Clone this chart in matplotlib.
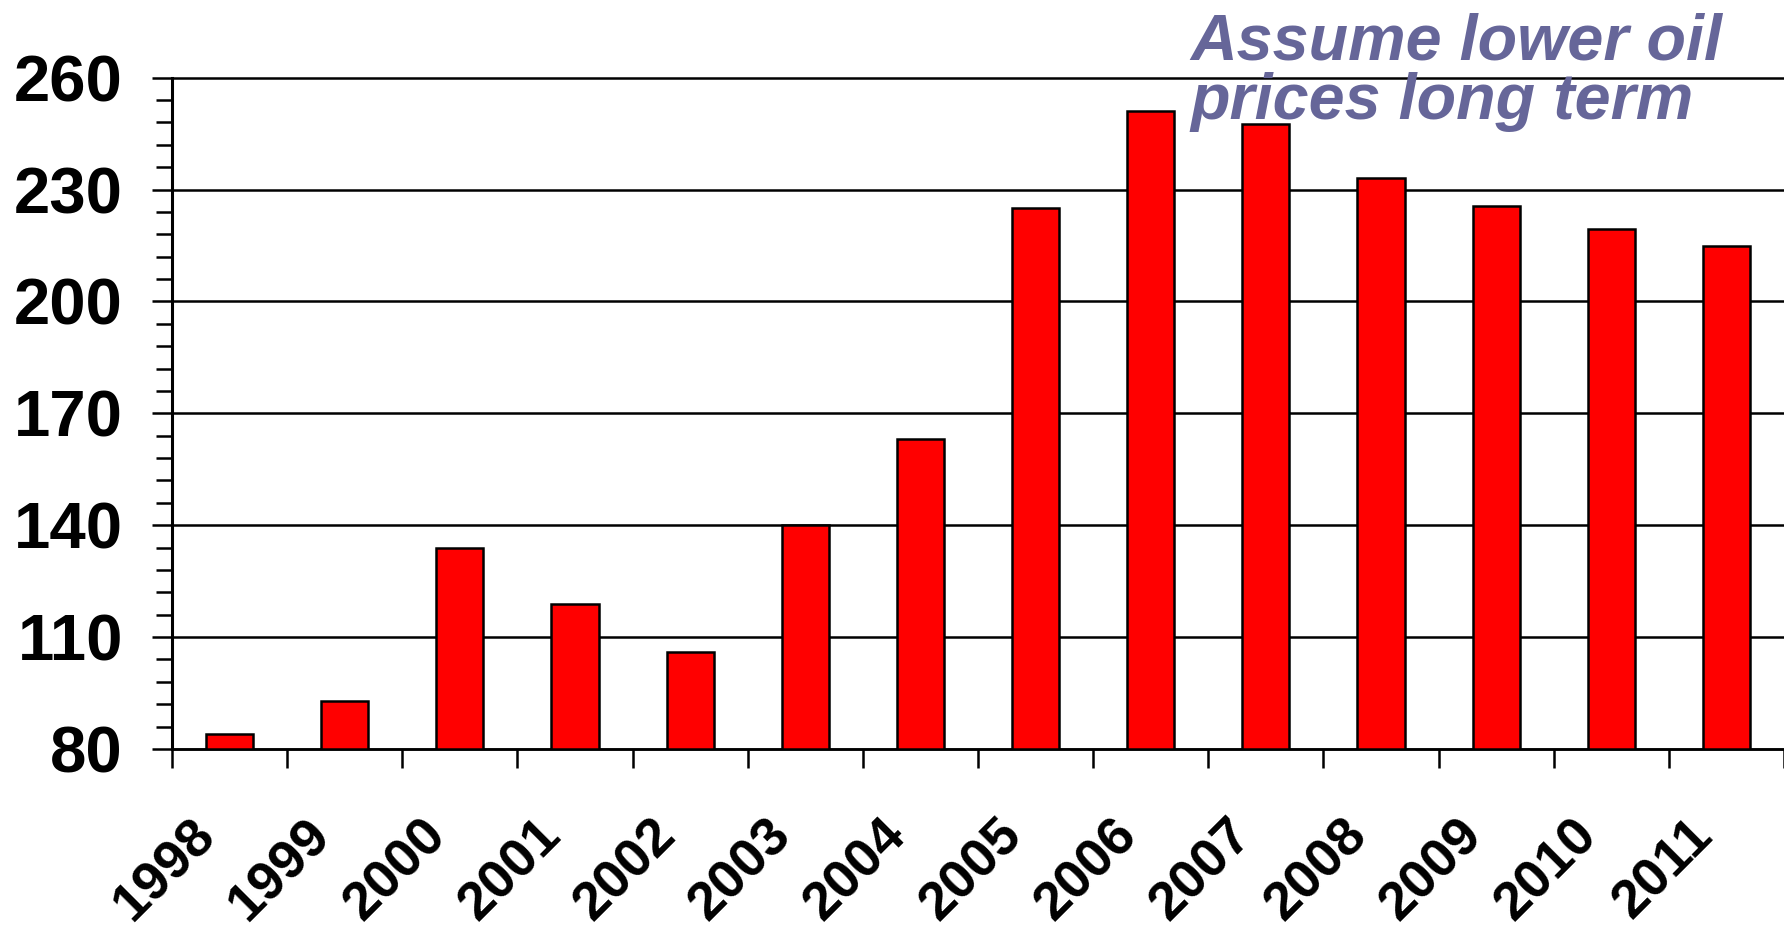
import numpy as np
import matplotlib
matplotlib.use("Agg")
import matplotlib.pyplot as plt
from matplotlib.ticker import FixedLocator
from matplotlib.transforms import ScaledTranslation

years = ["1998", "1999", "2000", "2001", "2002", "2003", "2004",
         "2005", "2006", "2007", "2008", "2009", "2010", "2011"]
values = [84, 93, 134, 119, 106, 140, 163, 225, 251, 247.5, 233, 225.7, 219.4, 215]
y_major = [80, 110, 140, 170, 200, 230, 260]
note_lines = ["Assume lower oil", "prices long term"]

plt.rcParams["font.family"] = ["Liberation Sans", "DejaVu Sans"]

W, H = 1784, 933
fig = plt.figure(figsize=(W / 100, H / 100), dpi=100)
ax = fig.add_axes([172 / W, 1 - 749 / H, 1 - 172 / W, (749 - 77.7) / H])

x = np.arange(len(years)) + 0.5
ax.bar(x, values, width=0.41, color="#ff0000", edgecolor="black", linewidth=1.8, zorder=2)

ax.set_xlim(0, len(years))
ax.set_ylim(y_major[0], y_major[-1])

# y axis: bold labels, minor ticks every 6
ax.set_yticks(y_major)
ax.set_yticklabels([str(v) for v in y_major], fontsize=47, fontweight="bold")
ax.yaxis.set_minor_locator(FixedLocator(np.arange(y_major[0], y_major[-1] + 1, 6)))
ax.tick_params(axis="y", which="major", length=14.4, width=1.8, pad=21, color="black")
ax.tick_params(axis="y", which="minor", length=11.5, width=1.8, color="black")
ax.yaxis.grid(True, color="black", linewidth=1.8)
ax.set_axisbelow(True)
for gl in ax.get_ygridlines():
    gl.set_clip_on(False)

# x axis: ticks on category boundaries, labels at centres
ax.set_xticks(np.arange(len(years) + 1))
ax.set_xticklabels([])
ax.set_xticks(x, minor=True)
ax.set_xticklabels(years, minor=True, rotation=45, ha="right", va="center",
                   rotation_mode="anchor", fontsize=39, fontweight="bold")
ax.tick_params(axis="x", which="major", length=14, width=1.8, color="black")
ax.tick_params(axis="x", which="minor", length=0, pad=56.5)
shift = ScaledTranslation(-22 / 100, 0, fig.dpi_scale_trans)
for lab in ax.get_xticklabels(minor=True):
    lab.set_transform(lab.get_transform() + shift)

for side in ("top", "right"):
    ax.spines[side].set_visible(False)
ax.spines["left"].set_linewidth(2.2)
ax.spines["bottom"].set_linewidth(1.8)

note_font = dict(fontsize=46.5, style="italic", fontweight="bold", color="#666699",
                 family=["Liberation Sans", "DejaVu Sans"], ha="left", va="baseline")
fig.text(1190 / W, 1 - 59 / H, note_lines[0], **note_font)
fig.text(1190 / W, 1 - 119 / H, note_lines[1], **note_font)

fig.savefig("out.png", dpi=100)
